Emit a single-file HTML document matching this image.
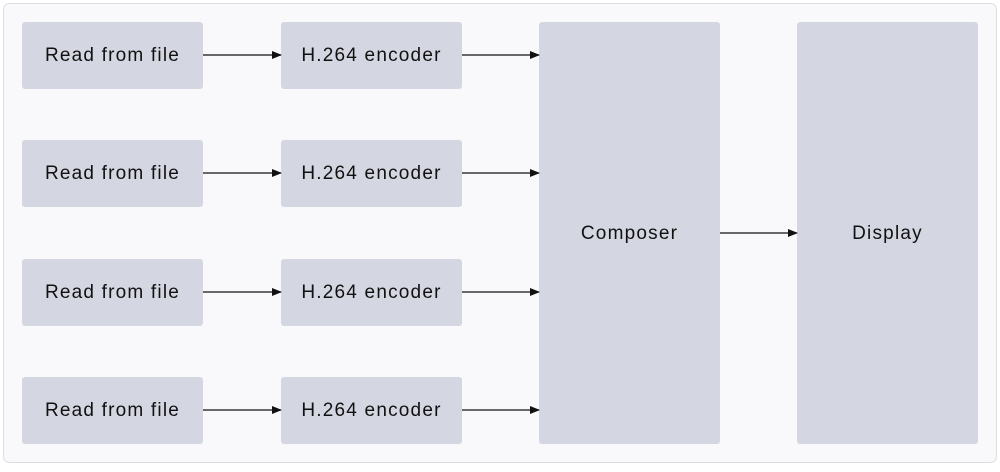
<!DOCTYPE html>
<html><head><style>
body{margin:0;width:1000px;height:467px;background:#fff;font-family:"Liberation Sans",sans-serif;}
</style></head><body>
<svg width="1000" height="467" xmlns="http://www.w3.org/2000/svg">
<defs><marker id="a" markerWidth="10" markerHeight="8" refX="9" refY="4" orient="auto" markerUnits="userSpaceOnUse"><path d="M0,0L10,4L0,8z" fill="#111"/></marker></defs>
<rect x="3.5" y="3.5" width="993" height="459" rx="6" fill="#f9f9fb" stroke="#dedee2"/>
<g fill="#d4d7e1">
<rect x="22" y="22" width="181" height="67" rx="3"/><rect x="281" y="22" width="181" height="67" rx="3"/>
<rect x="22" y="140" width="181" height="67" rx="3"/><rect x="281" y="140" width="181" height="67" rx="3"/>
<rect x="22" y="259" width="181" height="67" rx="3"/><rect x="281" y="259" width="181" height="67" rx="3"/>
<rect x="22" y="377" width="181" height="67" rx="3"/><rect x="281" y="377" width="181" height="67" rx="3"/>
<rect x="539" y="22" width="181" height="422" rx="3"/><rect x="797" y="22" width="181" height="422" rx="3"/>
</g>
<g stroke="#111" stroke-width="1.3" marker-end="url(#a)">
<line x1="203" y1="55" x2="281" y2="55"/><line x1="462" y1="55" x2="539" y2="55"/>
<line x1="203" y1="173" x2="281" y2="173"/><line x1="462" y1="173" x2="539" y2="173"/>
<line x1="203" y1="292" x2="281" y2="292"/><line x1="462" y1="292" x2="539" y2="292"/>
<line x1="203" y1="410" x2="281" y2="410"/><line x1="462" y1="410" x2="539" y2="410"/>
<line x1="720" y1="233" x2="797" y2="233"/>
</g>
<g font-family="Liberation Sans,sans-serif" font-size="19" fill="#111" text-anchor="middle" letter-spacing="1.2">
<text x="112.5" y="61">Read from file</text><text x="371.5" y="61">H.264 encoder</text>
<text x="112.5" y="179">Read from file</text><text x="371.5" y="179">H.264 encoder</text>
<text x="112.5" y="298">Read from file</text><text x="371.5" y="298">H.264 encoder</text>
<text x="112.5" y="416">Read from file</text><text x="371.5" y="416">H.264 encoder</text>
<text x="629.5" y="239">Composer</text><text x="887.5" y="239">Display</text>
</g>
</svg>
</body></html>
